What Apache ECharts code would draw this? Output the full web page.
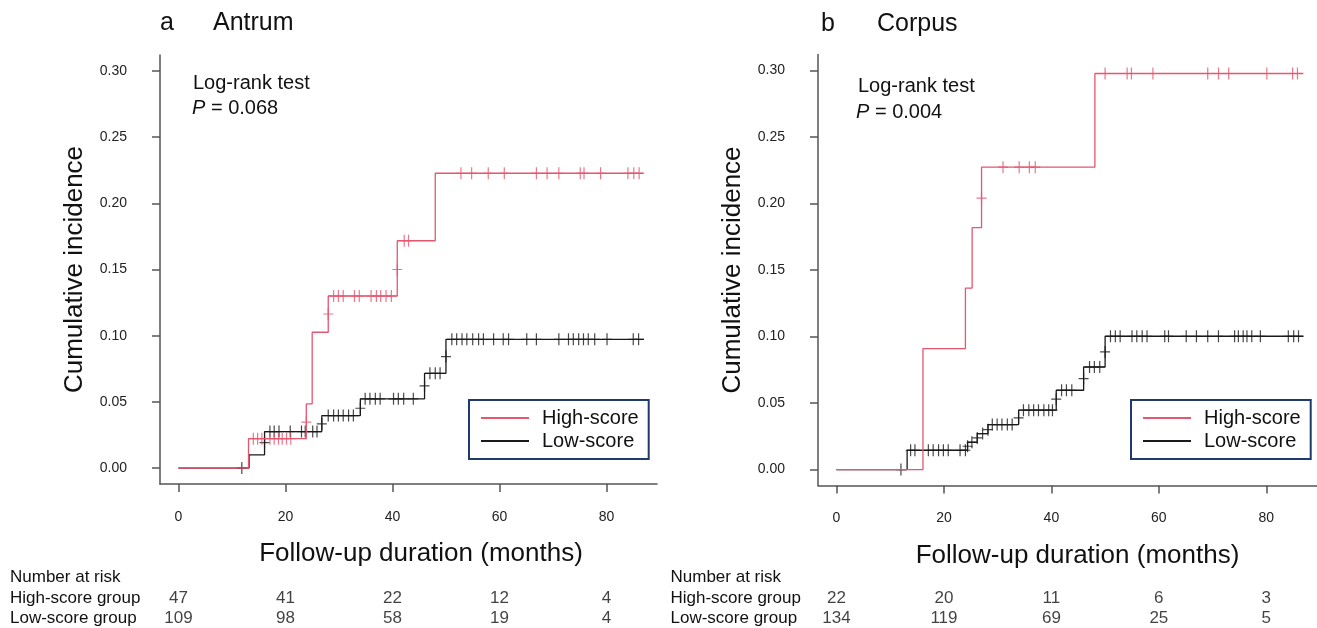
<!DOCTYPE html>
<html>
<head>
<meta charset="utf-8">
<script src="https://cdn.jsdelivr.net/npm/echarts@6/dist/echarts.min.js"></script>
<style>html,body{margin:0;padding:0;background:#fff;}#c{width:1317px;height:628px;}</style>
</head>
<body>
<div id="c"></div>
<script>
// ---------- DATA ----------
const xTicks = [0, 20, 40, 60, 80];
const yTicks = [0, 0.05, 0.10, 0.15, 0.20, 0.25, 0.30];

// Antrum – step curves (time of change, cumulative incidence after change)
const antHighT = [0, 13.1, 23.9, 25.0, 28.0, 40.9, 48.0, 86.9];
const antHighV = [0, 0.0222, 0.0485, 0.1026, 0.1300, 0.1717, 0.2227, 0.2227];
const antLowT  = [0, 13.2, 16.1, 26.8, 34.0, 46.0, 50.0, 87.0];
const antLowV  = [0, 0.0100, 0.0276, 0.0397, 0.0523, 0.0716, 0.0973, 0.0973];

// Antrum – censoring marks
const antHighCensT = [14.0, 14.8, 15.6, 17.1, 17.9, 18.7, 19.4, 20.2, 21.0, 23.9, 28.0,
  29.0, 29.9, 30.8, 32.9, 33.8, 36.0, 37.0, 37.8, 38.8, 39.8, 40.9, 42.2, 43.0,
  52.8, 54.8, 57.9, 60.9, 66.9, 68.9, 71.1, 75.1, 75.8, 78.9, 84.0, 85.1, 86.1];
const antHighCensV = [0.0222, 0.0222, 0.0222, 0.0222, 0.0222, 0.0222, 0.0222, 0.0222, 0.0222, 0.0347, 0.1164,
  0.130, 0.130, 0.130, 0.130, 0.130, 0.130, 0.130, 0.130, 0.130, 0.130, 0.150, 0.1717, 0.1717,
  0.2227, 0.2227, 0.2227, 0.2227, 0.2227, 0.2227, 0.2227, 0.2227, 0.2227, 0.2227, 0.2227, 0.2227, 0.2227];
const antLowCensT = [11.85, 16.1, 17.1, 17.9, 18.8, 20.9, 23.0, 23.7, 25.1, 25.9, 26.8,
  28.0, 29.0, 29.9, 30.8, 31.8, 32.7, 34.0, 34.9, 35.8, 36.8, 37.7, 40.2, 41.1, 42.1, 43.9,
  46.0, 47.0, 48.0, 48.9, 50.0,
  51.1, 52.0, 53.0, 53.9, 55.0, 56.1, 57.0, 58.9, 60.7, 61.7, 65.1, 66.9, 71.1, 72.9, 73.8,
  74.8, 75.7, 76.6, 77.8, 80.1, 85.0, 86.0];
const antLowCensV = [0, 0.0193, 0.0276, 0.0276, 0.0276, 0.0276, 0.0276, 0.0276, 0.0276, 0.0276, 0.0334,
  0.0397, 0.0397, 0.0397, 0.0397, 0.0397, 0.0397, 0.0452, 0.0523, 0.0523, 0.0523, 0.0523, 0.0523, 0.0523, 0.0523, 0.0523,
  0.0621, 0.0716, 0.0716, 0.0716, 0.0842,
  0.0973, 0.0973, 0.0973, 0.0973, 0.0973, 0.0973, 0.0973, 0.0973, 0.0973, 0.0973, 0.0973, 0.0973, 0.0973, 0.0973, 0.0973,
  0.0973, 0.0973, 0.0973, 0.0973, 0.0973, 0.0973, 0.0973];

// Corpus – step curves
const corHighT = [0, 16.1, 24.0, 25.25, 27.0, 48.1, 86.9];
const corHighV = [0, 0.0909, 0.1364, 0.1818, 0.2273, 0.2977, 0.2977];
const corLowT  = [0, 13.15, 24.4, 26.2, 28.2, 33.9, 40.9, 46.0, 50.0, 86.9];
const corLowV  = [0, 0.0145, 0.0205, 0.0270, 0.0338, 0.0446, 0.0596, 0.0771, 0.1002, 0.1002];

// Corpus – censoring marks
const corHighCensT = [27.0, 31.0, 34.0, 35.9, 37.0,
  50.0, 54.1, 54.9, 58.9, 69.1, 71.1, 73.0, 80.1, 84.9, 85.8];
const corHighCensV = [0.204, 0.2273, 0.2273, 0.2273, 0.2273,
  0.2977, 0.2977, 0.2977, 0.2977, 0.2977, 0.2977, 0.2977, 0.2977, 0.2977, 0.2977];
const corLowCensT = [12.0, 13.8, 14.6, 17.1, 18.0, 19.0, 19.9, 20.8, 23.0, 24.0,
  24.4, 25.2, 26.2, 27.2, 28.2,
  29.0, 29.9, 30.8, 31.8, 32.7, 33.9, 34.8, 35.8, 36.7, 37.6, 38.6, 39.5, 40.2, 40.9,
  41.9, 42.8, 43.8, 46.0, 47.1, 48.0, 49.0, 50.0,
  51.0, 51.9, 52.8, 55.0, 55.9, 56.9, 57.8, 61.1, 61.8, 65.1, 67.0, 69.1, 71.1,
  74.1, 74.8, 75.7, 76.4, 77.3, 78.9, 84.1, 85.1, 86.0];
const corLowCensV = [0, 0.0145, 0.0145, 0.0145, 0.0145, 0.0145, 0.0145, 0.0145, 0.0145, 0.0145,
  0.0175, 0.0205, 0.0238, 0.0270, 0.0300,
  0.0338, 0.0338, 0.0338, 0.0338, 0.0338, 0.0388, 0.0446, 0.0446, 0.0446, 0.0446, 0.0446, 0.0446, 0.0446, 0.0529,
  0.0596, 0.0596, 0.0596, 0.0684, 0.0771, 0.0771, 0.0771, 0.0884,
  0.1002, 0.1002, 0.1002, 0.1002, 0.1002, 0.1002, 0.1002, 0.1002, 0.1002, 0.1002, 0.1002, 0.1002, 0.1002,
  0.1002, 0.1002, 0.1002, 0.1002, 0.1002, 0.1002, 0.1002, 0.1002, 0.1002];

// Number at risk
const riskMonths = [0, 20, 40, 60, 80];
const antRiskHigh = [47, 41, 22, 12, 4];
const antRiskLow  = [109, 98, 58, 19, 4];
const corRiskHigh = [22, 20, 11, 6, 3];
const corRiskLow  = [134, 119, 69, 25, 5];
const riskRows = ['High-score group', 'Low-score group'];

// ---------- STYLE ----------
const FONT = '"Liberation Sans", Arial, sans-serif';
const RED = '#E5566F';
const BLACK = '#1a1a1a';
const AXIS = '#555';
const X_MIN = -3.44, X_MAX = 89.44, Y_MIN = -0.012, Y_MAX = 0.312;
const CROSS = 'path://M-0.6,-6 L0.6,-6 L0.6,-0.6 L5,-0.6 L5,0.6 L0.6,0.6 L0.6,6 L-0.6,6 L-0.6,0.6 L-5,0.6 L-5,-0.6 L-0.6,-0.6 Z';

const zip = (a, b) => a.map((v, i) => [v, b[i]]);

function mainX(gi, namePad) {
  return {
    type: 'value', gridIndex: gi, min: X_MIN, max: X_MAX,
    name: 'Follow-up duration (months)', nameLocation: 'middle', nameGap: 57,
    nameTextStyle: { fontSize: 26, fontFamily: FONT, color: '#111', padding: [0, 0, 0, namePad] },
    axisLine: { show: true, onZero: false, lineStyle: { color: AXIS, width: 1.5 } },
    axisTick: { show: true, length: 8, customValues: xTicks, lineStyle: { color: AXIS, width: 1.5 } },
    axisLabel: { customValues: xTicks, margin: 26, fontSize: 14, fontFamily: FONT, color: '#222' },
    splitLine: { show: false }
  };
}
function mainY(gi) {
  return {
    type: 'value', gridIndex: gi, min: Y_MIN, max: Y_MAX,
    name: 'Cumulative incidence', nameLocation: 'middle', nameGap: 72, nameRotate: 90,
    nameTextStyle: { fontSize: 26, fontFamily: FONT, color: '#111' },
    axisLine: { show: true, onZero: false, lineStyle: { color: AXIS, width: 1.5 } },
    axisTick: { show: true, length: 8, customValues: yTicks, lineStyle: { color: AXIS, width: 1.5 } },
    axisLabel: { customValues: yTicks, margin: 33, fontSize: 14, fontFamily: FONT, color: '#222',
      formatter: v => v.toFixed(2) },
    splitLine: { show: false }
  };
}
function tableX(gi) {
  return { type: 'value', gridIndex: gi, min: X_MIN, max: X_MAX, show: false };
}
function tableY(gi, margin) {
  return {
    type: 'category', gridIndex: gi, data: riskRows, inverse: true,
    axisLine: { show: false }, axisTick: { show: false }, splitLine: { show: false },
    axisLabel: { interval: 0, align: 'left', margin: margin, fontSize: 17, fontFamily: FONT, color: '#111' }
  };
}
function stepSeries(name, xi, t, v, color) {
  return {
    type: 'line', name: name, xAxisIndex: xi, yAxisIndex: xi, step: 'end',
    data: zip(t, v), symbol: 'none', showSymbol: false,
    lineStyle: { color: color, width: 1.3 }, itemStyle: { color: color },
    z: color === RED ? 4 : 2
  };
}
function censSeries(name, xi, t, v, color) {
  return {
    type: 'scatter', name: name, xAxisIndex: xi, yAxisIndex: xi,
    data: zip(t, v), symbol: CROSS, symbolSize: [10, 12],
    itemStyle: { color: color }, z: color === RED ? 5 : 3
  };
}
function riskSeries(xi, high, low) {
  const data = [];
  riskMonths.forEach((m, i) => { data.push([m, 0, high[i]]); data.push([m, 1, low[i]]); });
  return {
    type: 'scatter', xAxisIndex: xi, yAxisIndex: xi, data: data, symbolSize: 2,
    itemStyle: { color: 'rgba(0,0,0,0)' },
    label: { show: true, position: 'inside', formatter: p => String(p.value[2]),
      fontSize: 17, fontFamily: FONT, color: '#111' }
  };
}
function legendAt(left) {
  return {
    orient: 'vertical', left: left, top: 400, data: ['High-score', 'Low-score'],
    icon: 'rect', itemWidth: 48, itemHeight: 2, itemGap: 3,
    borderColor: '#1F3A6B', borderWidth: 2, padding: [8, 10, 8, 12],
    textStyle: { fontSize: 20, fontFamily: FONT, color: '#111', lineHeight: 20, padding: [0, 0, 0, 8] },
    selectedMode: false
  };
}
function txt(x, y, text, size, extra) {
  return Object.assign({ type: 'text', x: x, y: y,
    style: { text: text, fontSize: size, fontFamily: FONT, fill: '#111', verticalAlign: 'middle', align: 'left' } }, extra || {});
}
function pText(x, y, val) {
  return { type: 'text', x: x, y: y,
    style: { text: '{i|P} = ' + val, fontSize: 20, fontFamily: FONT, fill: '#111', verticalAlign: 'middle', align: 'left',
      rich: { i: { fontStyle: 'italic', fontSize: 20, fontFamily: FONT, fill: '#111' } } } };
}

const chart = echarts.init(document.getElementById('c'), null, { renderer: 'canvas' });
chart.setOption({
  animation: false,
  backgroundColor: '#fff',
  grid: [
    { left: 160, top: 55, width: 497, height: 429 },
    { left: 818, top: 54.5, width: 499, height: 431 },
    { left: 160, top: 588, width: 497, height: 40 },
    { left: 818, top: 588, width: 499, height: 40 }
  ],
  xAxis: [mainX(0, 25), mainX(1, 20), tableX(2), tableX(3)],
  yAxis: [mainY(0), mainY(1), tableY(2, 150), tableY(3, 147.5)],
  legend: [legendAt(469), legendAt(1131)],
  series: [
    stepSeries('Low-score', 0, antLowT, antLowV, BLACK),
    censSeries('Low-score censored', 0, antLowCensT, antLowCensV, BLACK),
    stepSeries('High-score', 0, antHighT, antHighV, RED),
    censSeries('High-score censored', 0, antHighCensT, antHighCensV, RED),
    stepSeries('Low-score', 1, corLowT, corLowV, BLACK),
    censSeries('Low-score censored', 1, corLowCensT, corLowCensV, BLACK),
    stepSeries('High-score', 1, corHighT, corHighV, RED),
    censSeries('High-score censored', 1, corHighCensT, corHighCensV, RED),
    riskSeries(2, antRiskHigh, antRiskLow),
    riskSeries(3, corRiskHigh, corRiskLow)
  ],
  graphic: [
    txt(160, 22.8, 'a', 25),
    txt(213, 22.8, 'Antrum', 25),
    txt(821, 24.5, 'b', 25),
    txt(877, 24.5, 'Corpus', 25),
    txt(193, 83.3, 'Log-rank test', 20),
    pText(192, 108.3, '0.068'),
    txt(858, 86.7, 'Log-rank test', 20),
    pText(856, 112, '0.004'),
    txt(10, 577, 'Number at risk', 17),
    txt(670.5, 577, 'Number at risk', 17)
  ]
});
</script>
</body>
</html>
